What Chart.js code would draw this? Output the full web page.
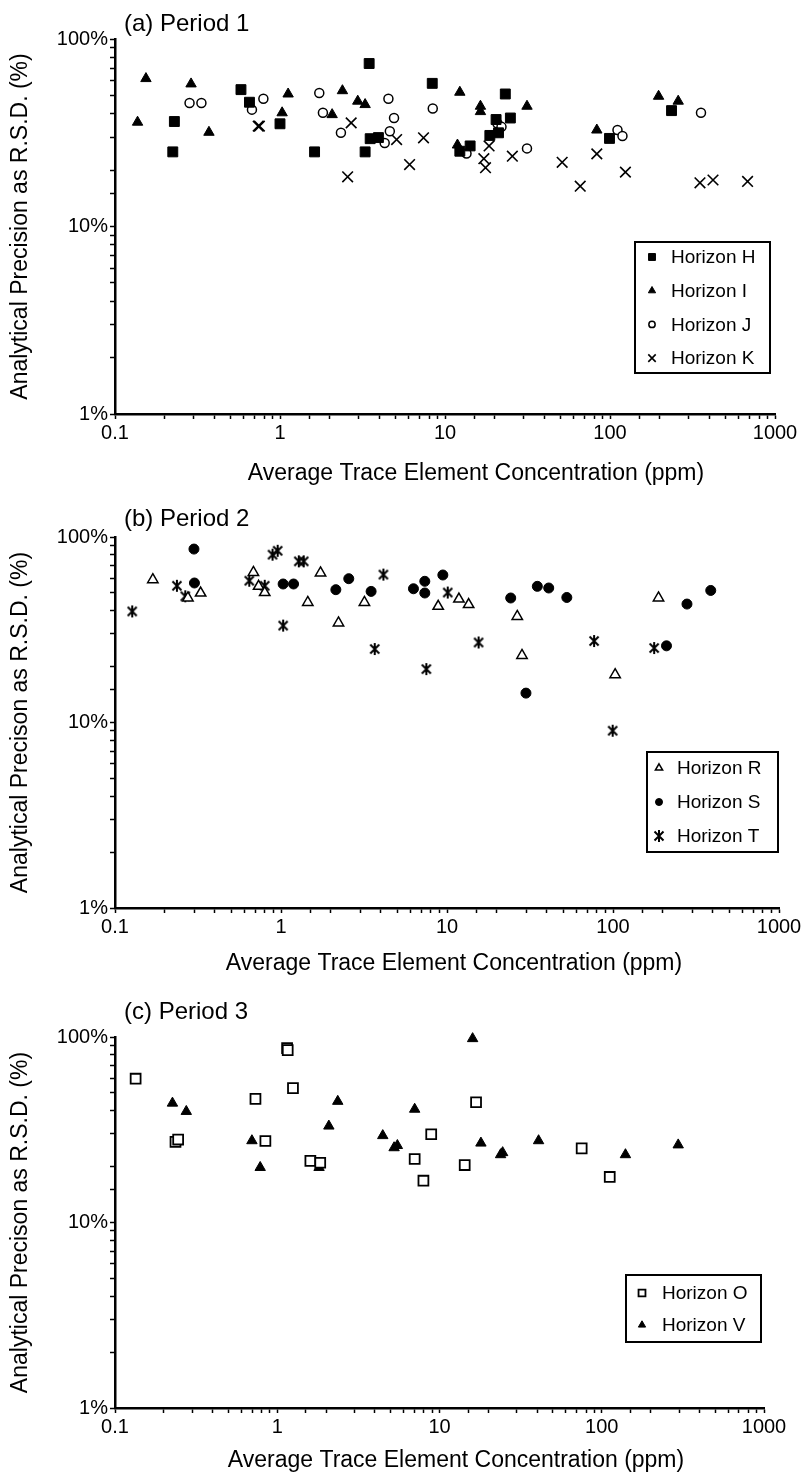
<!DOCTYPE html>
<html>
<head>
<meta charset="utf-8">
<script src="https://cdn.jsdelivr.net/npm/chart.js@4.4.1/dist/chart.umd.min.js"></script>
<style>
  body { margin: 0; background: #fff; width: 804px; height: 1475px; position: relative; overflow: hidden; }
  .panel { position: absolute; left: 0; width: 804px; }
</style>
</head>
<body>
<div class="panel" style="top:0;height:490px"><canvas id="chartA"></canvas></div>
<div class="panel" style="top:490px;height:490px"><canvas id="chartB"></canvas></div>
<div class="panel" style="top:980px;height:495px"><canvas id="chartC"></canvas></div>
<script>
// axis ticks
const xTickValues = [0.1, 1, 10, 100, 1000];
const xTickLabels = ["0.1", "1", "10", "100", "1000"];
const yTickValues = [1, 10, 100];
const yTickLabels = ["1%", "10%", "100%"];

// (a) Period 1
const horizonH_x = [0.224, 0.229, 0.58, 0.653, 1.0, 1.62, 3.47, 3.28, 3.52, 3.95, 8.37, 12.3, 14.2, 18.7, 20.4, 21.1, 23.2, 24.9, 99.3, 236];
const horizonH_y = [25, 36.3, 53.7, 46, 35.3, 25, 74, 25, 29.4, 29.8, 58, 25.2, 26.9, 30.6, 37.2, 31.6, 50.9, 37.9, 29.5, 41.5];
const horizonI_x = [0.137, 0.154, 0.289, 0.371, 1.12, 1.03, 2.07, 2.39, 2.96, 3.28, 12.3, 11.9, 16.4, 16.4, 31.4, 83.2, 197, 259];
const horizonI_y = [36, 61.5, 57.6, 31.8, 50.9, 40.4, 39.5, 53, 46.6, 44.7, 52, 27.2, 43.8, 41, 43.8, 32.7, 49.5, 46.6];
const horizonJ_x = [0.283, 0.334, 0.676, 0.793, 1.73, 1.82, 2.34, 4.54, 4.91, 4.63, 4.31, 8.43, 13.5, 20.8, 22, 31.4, 111, 119, 356];
const horizonJ_y = [45.6, 45.6, 42, 48, 51.5, 40.4, 31.6, 48, 37.9, 32.2, 27.9, 42.6, 24.5, 35.4, 34, 26.1, 32.7, 30.4, 40.4];
const horizonK_x = [0.738, 0.75, 2.57, 2.7, 5.09, 6.1, 7.41, 17.2, 17.6, 18.5, 25.6, 51.3, 66, 83.2, 124, 351, 421, 682];
const horizonK_y = [34.3, 34.3, 18.4, 35.7, 29.1, 21.4, 29.7, 23, 20.6, 26.9, 23.7, 22, 16.4, 24.4, 19.5, 17.1, 17.7, 17.4];

// (b) Period 2
const horizonR_x = [0.169, 0.275, 0.328, 0.682, 0.733, 0.798, 1.45, 1.73, 2.22, 3.18, 8.85, 11.8, 13.5, 26.5, 28.3, 103, 188];
const horizonR_y = [58.9, 46.9, 49.9, 64.4, 54.2, 50.2, 44.4, 64, 34.4, 44.4, 42.3, 46.3, 43.2, 37.3, 23, 18.1, 46.9];
const horizonS_x = [0.299, 0.301, 1.03, 1.19, 2.14, 2.56, 3.49, 6.28, 7.35, 7.35, 9.44, 24.2, 29.9, 35, 41, 52.7, 210, 279, 388];
const horizonS_y = [86.1, 56.5, 55.8, 55.8, 52, 59.6, 50.9, 52.6, 57.7, 49.9, 62.4, 46.9, 14.4, 54.2, 53.1, 47.2, 25.9, 43.5, 51.5];
const horizonT_x = [0.127, 0.236, 0.265, 0.644, 0.798, 0.889, 0.955, 1.03, 1.28, 1.37, 3.67, 4.14, 7.51, 10.1, 15.5, 76.9, 99.5, 177];
const horizonT_y = [39.7, 54.6, 47.9, 58.1, 54.6, 80.3, 84.3, 33.3, 73.9, 73.9, 24.9, 62.7, 19.4, 50.2, 27, 27.5, 9.03, 25.2];

// (c) Period 3
const horizonO_x = [0.134, 1.15, 1.16, 1.25, 0.734, 0.236, 0.245, 0.845, 1.6, 1.84, 7.03, 7.96, 8.89, 14.3, 16.8, 75.2, 112];
const horizonO_y = [59.6, 87, 85, 53, 46.4, 27.2, 28, 27.5, 21.5, 21, 22, 16.8, 29.9, 20.4, 44.5, 25.1, 17.6];
const horizonV_x = [0.226, 0.275, 0.698, 0.785, 1.81, 2.08, 2.36, 4.47, 5.25, 5.5, 7.03, 16, 18, 23.8, 24.5, 40.8, 140, 296];
const horizonV_y = [44, 39.7, 27.6, 19.8, 19.8, 33.1, 45, 29.4, 25.3, 26, 40.8, 98, 26.8, 23.2, 23.8, 27.6, 23.2, 26.2];

const FONT = "'Liberation Sans', Arial, sans-serif";

function pts(xs, ys) {
  return xs.map((x, i) => ({ x: x, y: ys[i] }));
}

// asterisk marker (x with a vertical bar)
const star = document.createElement("canvas");
star.width = 14;
star.height = 14;
(function () {
  const c = star.getContext("2d");
  c.strokeStyle = "#000";
  c.lineWidth = 2;
  c.beginPath();
  c.moveTo(2.5, 2.5); c.lineTo(11.5, 11.5);
  c.moveTo(11.5, 2.5); c.lineTo(2.5, 11.5);
  c.moveTo(7, 1); c.lineTo(7, 13);
  c.stroke();
})();

const panelText = {
  id: "panelText",
  afterDraw(chart, args, opts) {
    const ctx = chart.ctx;
    ctx.save();
    ctx.fillStyle = "#000";
    ctx.textBaseline = "middle";
    ctx.font = "24px " + FONT;
    ctx.textAlign = "left";
    ctx.fillText(opts.title, chart.chartArea.left + 9, opts.titleY);
    ctx.font = "23px " + FONT;
    ctx.textAlign = "center";
    ctx.fillText("Average Trace Element Concentration (ppm)", opts.xTitleX, opts.xTitleY);
    ctx.restore();
  }
};

const boxLegend = {
  id: "boxLegend",
  afterDraw(chart, args, opts) {
    const ctx = chart.ctx;
    const [l, t, r, b] = opts.box;
    ctx.save();
    ctx.lineWidth = 2;
    ctx.strokeStyle = "#000";
    ctx.strokeRect(l, t, r - l, b - t);
    ctx.font = "19px " + FONT;
    ctx.textBaseline = "middle";
    ctx.textAlign = "left";
    chart.data.datasets.forEach((ds, i) => {
      const y = opts.firstY + i * opts.step;
      ctx.fillStyle = ds.backgroundColor;
      ctx.strokeStyle = "#000";
      ctx.lineWidth = ds.borderWidth;
      Chart.helpers.drawPoint(ctx, {
        pointStyle: ds.pointStyle,
        radius: ds.pointRadius * 0.7,
        borderWidth: ds.borderWidth,
        rotation: 0
      }, opts.markerX, y);
      ctx.fillStyle = "#000";
      ctx.fillText(ds.label, opts.textX, y + 1);
    });
    ctx.restore();
  }
};

function xLabel(value) {
  const i = xTickValues.findIndex(v => Math.abs(v - value) / v < 1e-6);
  return i >= 0 ? xTickLabels[i] : "";
}
function yLabel(value) {
  const i = yTickValues.findIndex(v => Math.abs(v - value) / v < 1e-6);
  return i >= 0 ? yTickLabels[i] : "";
}

function makeChart(id, cfg) {
  return new Chart(document.getElementById(id), {
    type: "scatter",
    data: { datasets: cfg.datasets },
    options: {
      responsive: true,
      maintainAspectRatio: false,
      animation: false,
      layout: { padding: { top: cfg.top, right: cfg.right, bottom: 0, left: 0 } },
      plugins: {
        legend: { display: false },
        tooltip: { enabled: false },
        panelText: cfg.text,
        boxLegend: cfg.legend
      },
      scales: {
        x: {
          type: "logarithmic",
          min: 0.1,
          max: 1000,
          afterFit: s => { s.height = cfg.xHeight; },
          border: { display: true, color: "#000", width: 2.5 },
          grid: { drawOnChartArea: false, tickLength: 5, tickColor: "#000", tickWidth: 1.5 },
          ticks: { autoSkip: false, maxRotation: 0, padding: 2, color: "#000", font: { family: FONT, size: 20 }, callback: xLabel }
        },
        y: {
          type: "logarithmic",
          min: 1,
          max: 100,
          afterFit: s => { s.width = 115; },
          border: { display: true, color: "#000", width: 2.5 },
          grid: { drawOnChartArea: false, tickLength: 5, tickColor: "#000", tickWidth: 1.5 },
          ticks: { autoSkip: false, padding: 2, color: "#000", font: { family: FONT, size: 20 }, callback: yLabel },
          title: { display: true, text: cfg.yTitle, color: "#000", font: { family: FONT, size: 23 }, padding: { top: 7, bottom: 0 } }
        }
      }
    },
    plugins: [panelText, boxLegend]
  });
}

function ds(label, xs, ys, style, radius, filled, bw) {
  return {
    label: label,
    data: pts(xs, ys),
    pointStyle: style,
    pointRadius: radius,
    backgroundColor: filled ? "#000" : "#fff",
    borderColor: "#000",
    borderWidth: bw,
    clip: false
  };
}

makeChart("chartA", {
  top: 39, right: 29, xHeight: 76,
  yTitle: "Analytical Precision as R.S.D. (%)",
  text: { title: "(a) Period 1", titleY: 24, xTitleX: 476, xTitleY: 474 },
  legend: { box: [635, 242, 770, 373], firstY: 257, step: 33.7, markerX: 652, textX: 671 },
  datasets: [
    ds("Horizon H", horizonH_x, horizonH_y, "rect", 7, true, 1),
    ds("Horizon I", horizonI_x, horizonI_y, "triangle", 6, true, 1),
    ds("Horizon J", horizonJ_x, horizonJ_y, "circle", 4.5, false, 1.5),
    ds("Horizon K", horizonK_x, horizonK_y, "crossRot", 7.5, false, 1.6)
  ]
});

makeChart("chartB", {
  top: 47, right: 25, xHeight: 72,
  yTitle: "Analytical Precison as R.S.D. (%)",
  text: { title: "(b) Period 2", titleY: 29, xTitleX: 454, xTitleY: 474 },
  legend: { box: [647, 262, 778, 362], firstY: 278, step: 34, markerX: 659, textX: 677 },
  datasets: [
    ds("Horizon R", horizonR_x, horizonR_y, "triangle", 6, false, 1.5),
    ds("Horizon S", horizonS_x, horizonS_y, "circle", 5, true, 1),
    ds("Horizon T", horizonT_x, horizonT_y, star, 6, false, 1)
  ]
});

makeChart("chartC", {
  top: 57, right: 40, xHeight: 67,
  yTitle: "Analytical Precison as R.S.D. (%)",
  text: { title: "(c) Period 3", titleY: 32, xTitleX: 456, xTitleY: 481 },
  legend: { box: [626, 295, 761, 362], firstY: 313, step: 32, markerX: 642, textX: 662 },
  datasets: [
    ds("Horizon O", horizonO_x, horizonO_y, "rect", 7, false, 1.8),
    ds("Horizon V", horizonV_x, horizonV_y, "triangle", 6, true, 1)
  ]
});
</script>
</body>
</html>
